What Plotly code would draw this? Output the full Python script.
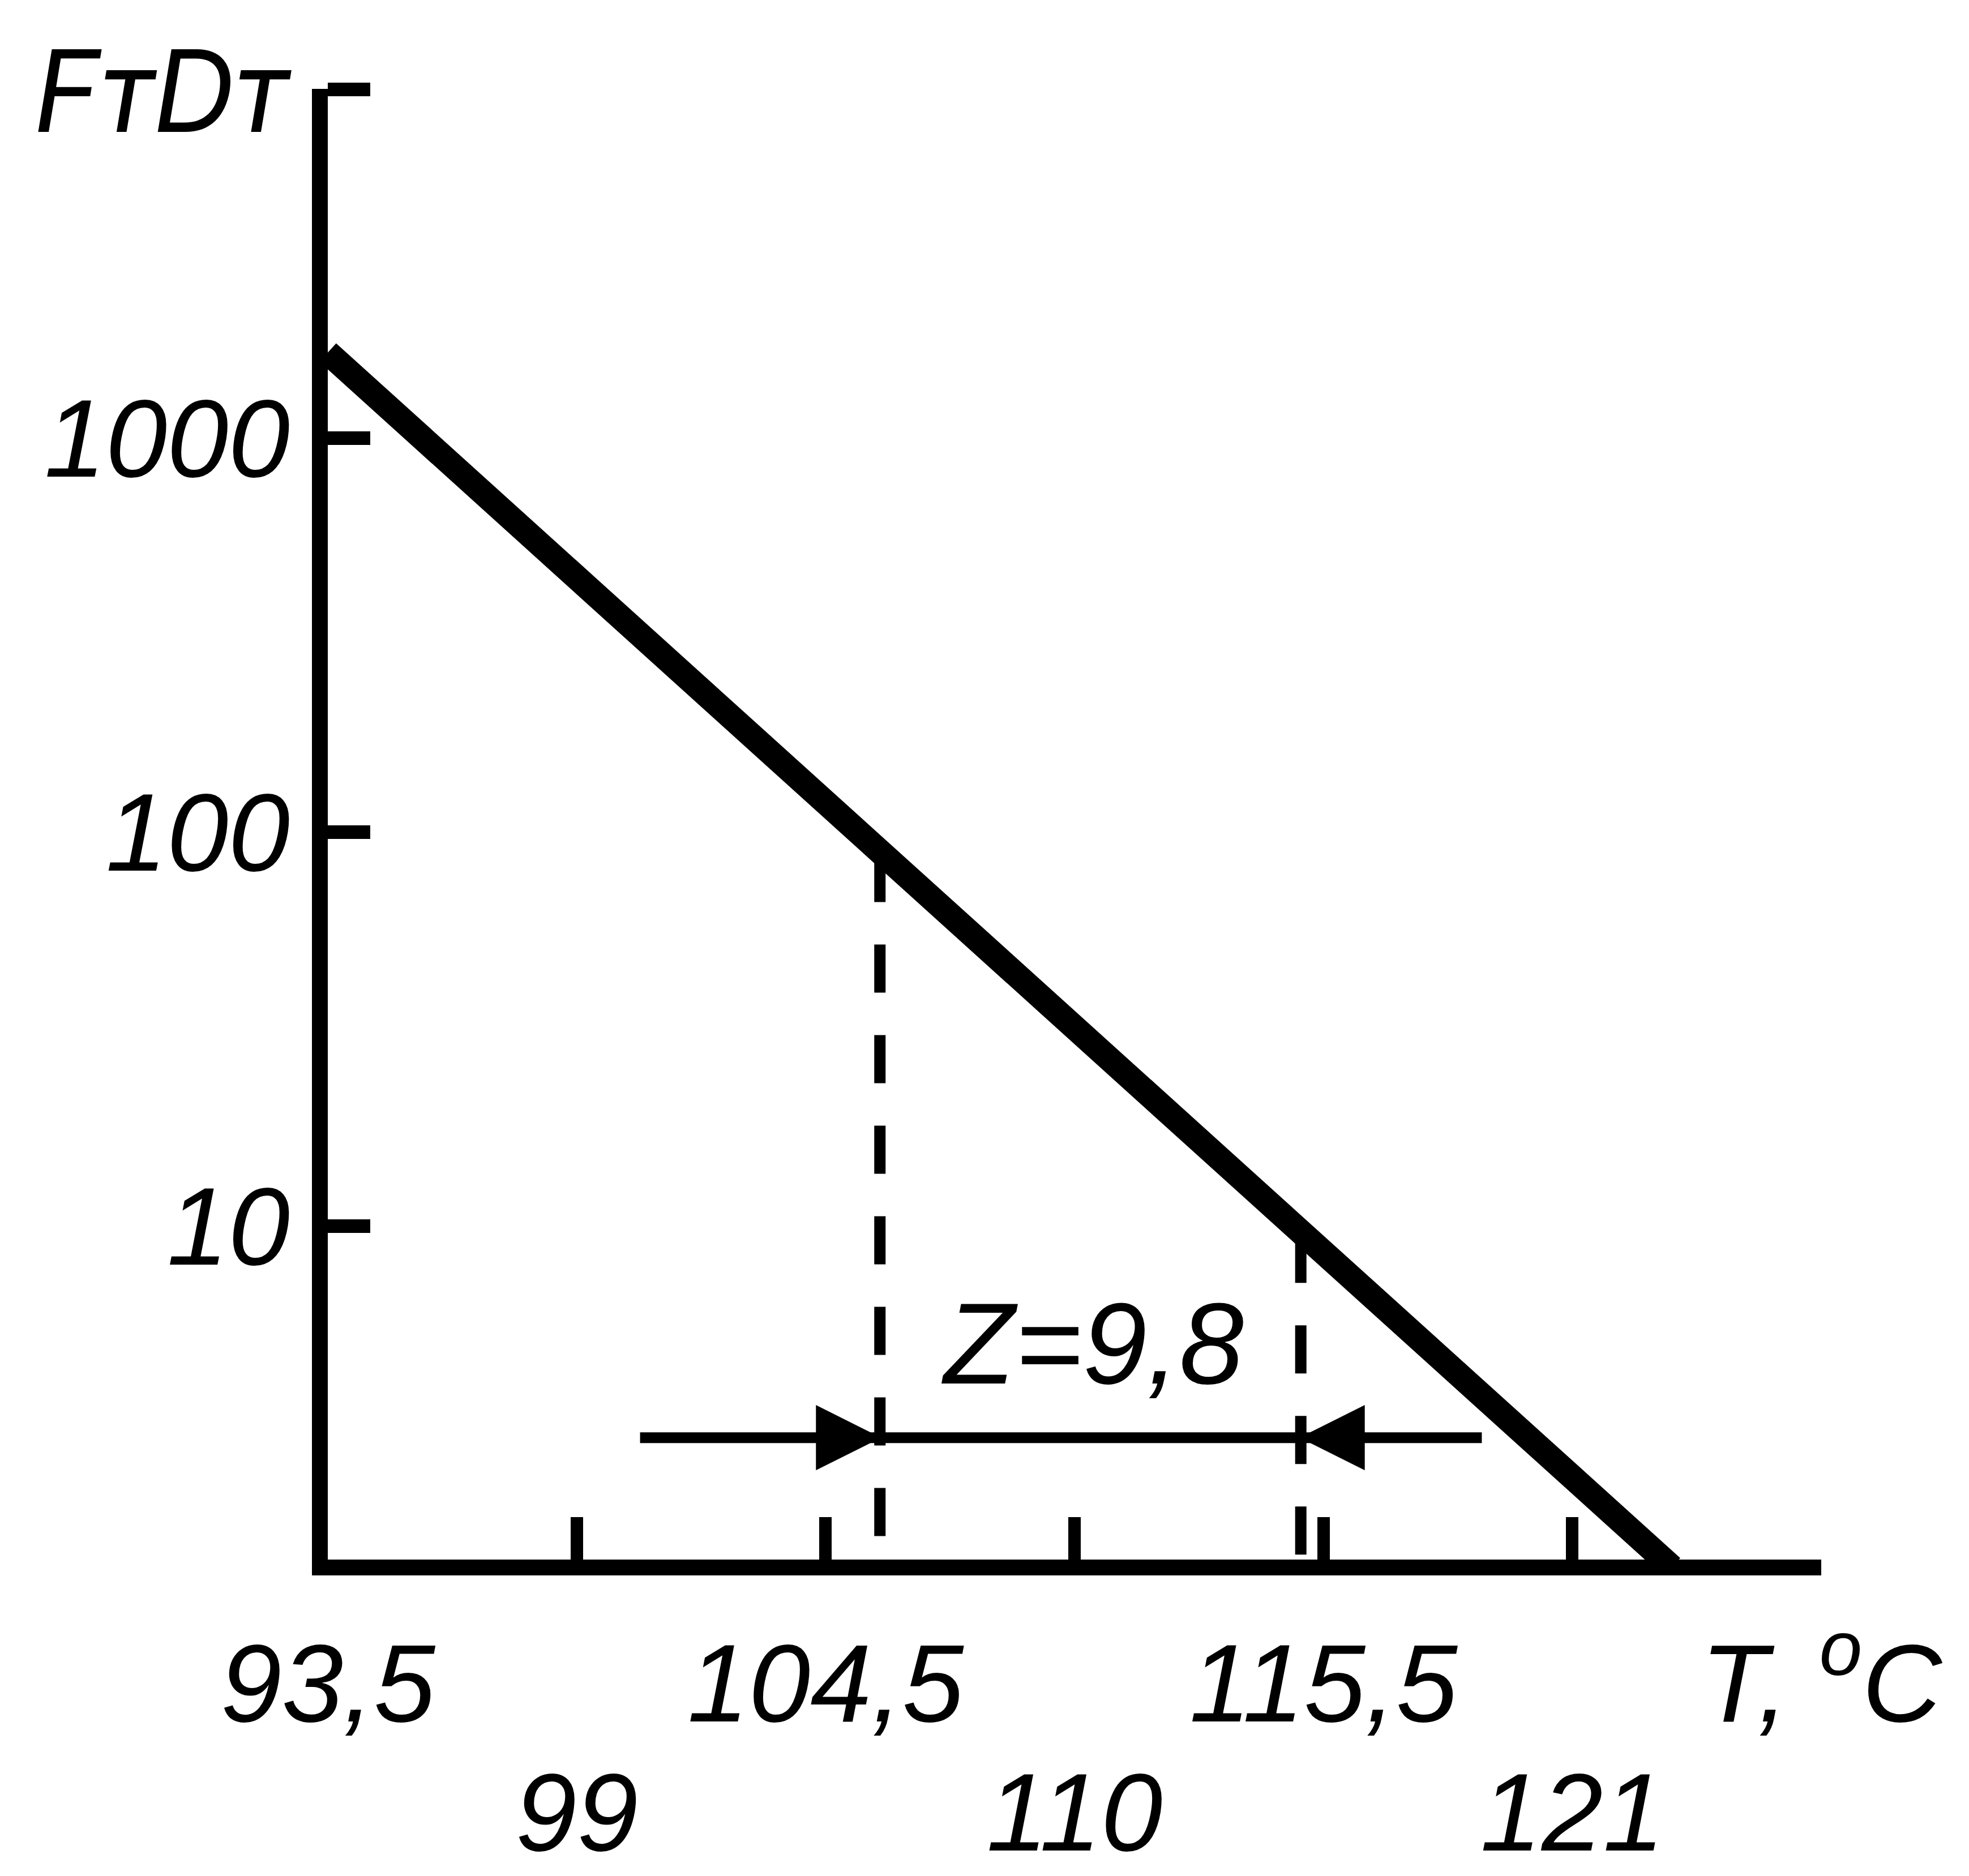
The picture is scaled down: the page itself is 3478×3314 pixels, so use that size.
import math
import plotly.graph_objects as go

# ---- data ----
line_T = [93.5, 123.2]          # temperature, °C
line_FD = [1650, 1.36]          # FтDт (log scale)

dashed_T = [105.7, 115.0]       # verticals marking the Z interval
dashed_top = [88, 9.5]          # where they meet the line
axis_bottom_FD = 1.36

arrow_T = [100.4, 119.0]        # horizontal dimension line
arrow_FD = 2.9
arrow_tips_T = [105.7, 115.0]
arrow_symbols = ["arrow-right", "arrow-left"]

x_tick_marks = [99, 104.5, 110, 115.5, 121, 126.5]
x_ticks_row1 = [93.5, 104.5, 115.5, 126.5]
x_text_row1 = ["93,5", "104,5", "115,5", "T, <sup>o</sup>C"]
x_ticks_row2 = [99, 110, 121]
x_text_row2 = ["99", "110", "121"]

y_ticks = [10, 100, 1000]
y_text = ["10", "100", "1000"]
y_top_tick = [10 ** 3.885]

z_label = "Z=9,8"
y_label = "FтDт"

FONT = "Liberation Sans"
fs = 195
X_RANGE = [93.5, 126.5]
Y_RANGE = [0.153, 3.887]

fig = go.Figure()

# main line
fig.add_trace(go.Scatter(x=line_T, y=line_FD, mode="lines",
                         line=dict(color="black", width=44), hoverinfo="skip"))

# dashed verticals (drawn from the line down to the axis)
dx, dy = [], []
for t, top in zip(dashed_T, dashed_top):
    dx += [t, t, None]
    dy += [top, axis_bottom_FD, None]
fig.add_trace(go.Scatter(x=dx, y=dy, mode="lines", xaxis="x2",
                         line=dict(color="black", width=20, dash="85px,75px"),
                         hoverinfo="skip"))

# dimension line with arrowheads
fig.add_trace(go.Scatter(x=arrow_T, y=[arrow_FD] * len(arrow_T), mode="lines",
                         xaxis="x3", yaxis="y2",
                         line=dict(color="black", width=19), hoverinfo="skip"))
fig.add_trace(go.Scatter(x=arrow_tips_T, y=[arrow_FD] * len(arrow_tips_T), mode="markers",
                         marker=dict(symbol=arrow_symbols, size=112, color="black",
                                     line=dict(color="black", width=2)),
                         cliponaxis=False, hoverinfo="skip"))

W, H = 3478, 3314
L, R, T, B = 571, 269, 149, 531

tickfont = dict(family=FONT, size=fs, color="black", style="italic")

fig.update_layout(
    width=W, height=H,
    margin=dict(l=L, r=R, t=T, b=B, pad=0),
    paper_bgcolor="white", plot_bgcolor="white",
    showlegend=False,
    xaxis=dict(range=X_RANGE, showline=True, linewidth=28, linecolor="black",
               showgrid=False, zeroline=False,
               ticks="inside", ticklen=75, tickwidth=22, tickcolor="black",
               tickmode="array", tickvals=x_tick_marks, showticklabels=False),
    xaxis2=dict(range=X_RANGE, overlaying="x", anchor="y", side="bottom",
                showline=False, showgrid=False, zeroline=False, ticks="",
                tickmode="array", tickvals=x_ticks_row1, ticktext=x_text_row1,
                tickfont=tickfont, ticklabelstandoff=90),
    xaxis3=dict(range=X_RANGE, overlaying="x", anchor="y", side="bottom",
                showline=False, showgrid=False, zeroline=False, ticks="",
                tickmode="array", tickvals=x_ticks_row2, ticktext=x_text_row2,
                tickfont=tickfont, ticklabelstandoff=318),
    yaxis=dict(type="log", range=Y_RANGE, showline=True, linewidth=28,
               linecolor="black", showgrid=False, zeroline=False,
               ticks="inside", ticklen=75, tickwidth=24, tickcolor="black",
               tickmode="array", tickvals=y_ticks, ticktext=y_text,
               tickfont=tickfont),
    yaxis2=dict(type="log", range=Y_RANGE, overlaying="y", anchor="x", side="left",
                showline=False, showgrid=False, zeroline=False,
                ticks="inside", ticklen=75, tickwidth=24, tickcolor="black",
                tickmode="array", tickvals=y_top_tick, showticklabels=False),
)

fig.add_annotation(text=y_label, xref="paper", yref="paper",
                   x=(510 - L) / (W - L - R), y=(H - B - 152) / (H - B - T),
                   xanchor="right", yanchor="middle", showarrow=False,
                   font=dict(family="Inter", size=200, color="black", style="italic"))

fig.add_annotation(text=z_label, xref="x", yref="y", x=110.4, y=math.log10(5.05),
                   xanchor="center", yanchor="middle", showarrow=False,
                   font=dict(family=FONT, size=205, color="black", style="italic"))

fig.write_html("out.html")
